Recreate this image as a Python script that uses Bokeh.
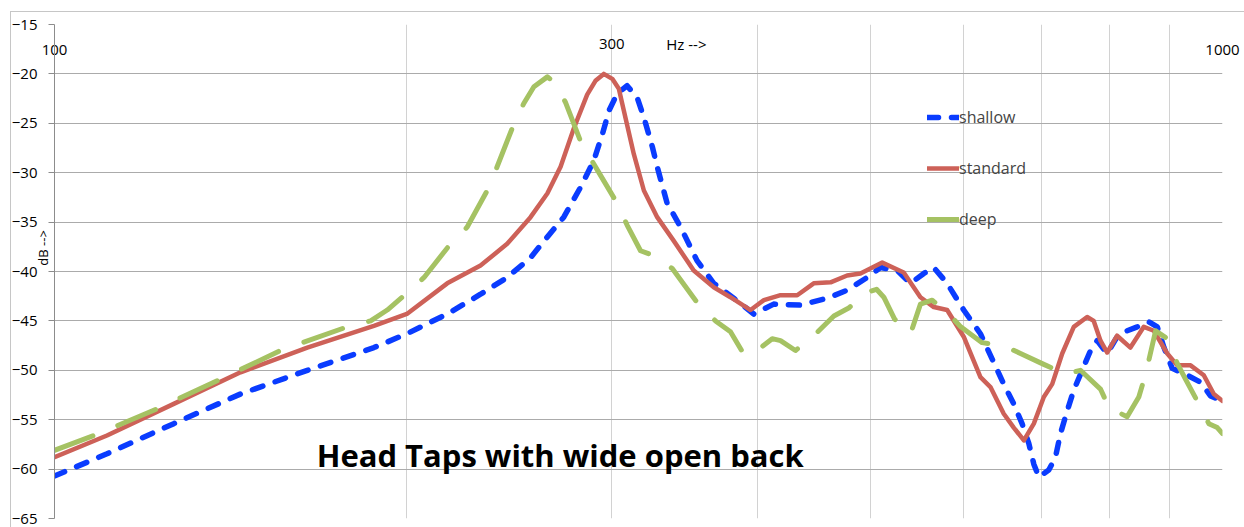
import math
from bokeh.plotting import figure
from bokeh.models import (Range1d, FixedTicker, Grid, Label, Legend, LegendItem,
                          PrintfTickFormatter, InlineStyleSheet)
from bokeh.embed import file_html
from bokeh.resources import INLINE

# ---------------- data ----------------
shallow_freq = [100, 110.9, 126.5, 144.3, 164.6, 187.7, 200.3, 216.9, 231.6, 244.1,
                255.6, 264.2, 272.9, 282.0, 289.5, 294.5, 298.4, 303.2, 309.2, 315.4,
                319.6, 325.0, 328.1, 334.6, 343.6, 354.9, 366.8, 381.5, 396.9, 412.8,
                435.3, 458.8, 477.1, 496.3, 509.6, 526.6, 540.6, 555.0, 566.0, 581.1,
                600.4, 620.5, 637.0, 649.7, 662.6, 673.6, 682.6, 689.4, 696.2, 710.0,
                719.4, 726.6, 736.3, 745.9, 755.8, 770.9, 781.0, 796.7, 812.4, 828.6,
                845.3, 864.9, 879.3, 891.0, 905.6, 932.9, 957.6, 976.6, 1000]
shallow_db = [-60.7, -58.45, -55.4, -52.4, -50.0, -47.7, -46.3, -44.3, -42.3, -40.6,
              -38.6, -36.5, -34.5, -31.5, -28.8, -26.1, -23.7, -22.0, -21.2, -22.4,
              -24.4, -27.4, -29.4, -33.1, -35.5, -38.9, -41.2, -42.7, -44.3, -43.3,
              -43.4, -42.7, -41.9, -40.6, -39.6, -39.9, -41.2, -40.2, -39.6, -41.2,
              -43.9, -46.3, -49.2, -51.4, -53.4, -55.4, -57.4, -59.5, -60.8, -60.1,
              -58.8, -56.4, -54.1, -52.0, -50.4, -48.0, -47.0, -48.3, -46.6, -46.0,
              -45.6, -45.1, -45.6, -47.7, -49.8, -50.5, -51.2, -52.6, -53.1]

standard_freq = [100, 110.9, 126.5, 144.3, 164.6, 187.7, 200.3, 216.9, 231.6, 244.1,
                 255.6, 264.2, 271.2, 278.4, 285.8, 290.5, 295.3, 300.3, 304.2, 307.2,
                 313.3, 319.6, 328.1, 339.0, 352.6, 366.8, 379.1, 394.4, 404.9, 418.4,
                 432.4, 446.7, 461.8, 477.1, 489.8, 511.3, 533.4, 551.3, 566.0, 581.1,
                 600.4, 620.5, 632.9, 649.7, 662.6, 676.0, 689.4, 703.1, 714.8, 729.1,
                 745.9, 765.8, 775.8, 786.2, 796.7, 812.4, 834.0, 856.3, 873.4, 896.8,
                 914.7, 939.0, 963.8, 983.0, 1000]
standard_db = [-58.8, -56.6, -53.4, -50.2, -47.7, -45.5, -44.3, -41.2, -39.4, -37.2,
               -34.5, -32.1, -29.4, -25.5, -22.1, -20.7, -20.0, -20.5, -21.5, -23.7,
               -28.1, -31.8, -34.5, -36.9, -39.9, -41.6, -42.6, -43.9, -42.9, -42.4,
               -42.4, -41.2, -41.1, -40.4, -40.2, -39.1, -40.1, -42.6, -43.6, -43.9,
               -46.6, -50.7, -51.7, -54.4, -55.8, -57.1, -55.4, -52.7, -51.4, -48.3,
               -45.6, -44.6, -45.0, -47.0, -48.2, -46.5, -47.7, -45.6, -46.0, -48.3,
               -49.5, -49.5, -50.5, -52.4, -53.1]

deep_freq = [100, 108.1, 122.4, 138.7, 156.1, 178.1, 186.5, 192.7, 199.8, 207.2,
             218.3, 225.6, 234.7, 239.3, 247.3, 252.2, 257.3, 264.2, 267.7, 273.9,
             282.9, 289.5, 303.2, 309.2, 317.5, 326.0, 338.0, 356.3, 368.1, 379.1,
             389.8, 401.5, 411.6, 418.4, 430.9, 446.7, 464.8, 478.6, 496.3, 505.6,
             512.9, 523.8, 540.6, 551.3, 564.2, 583.1, 596.9, 622.6, 649.7, 671.5,
             703.1, 733.9, 755.8, 786.2, 801.8, 812.4, 828.6, 847.9, 859.3, 876.5,
             896.8, 914.7, 929.6, 951.3, 973.4, 989.7, 1000]
deep_db = [-58.1, -56.6, -53.9, -50.9, -48.0, -45.6, -45.0, -43.9, -42.3, -40.6,
           -37.2, -35.5, -31.8, -29.4, -25.1, -23.0, -21.3, -20.3, -20.8, -22.9,
           -27.2, -29.1, -33.1, -35.3, -37.9, -38.4, -39.7, -43.4, -45.0, -46.1,
           -48.5, -47.8, -46.8, -47.0, -48.0, -46.5, -44.5, -43.7, -42.1, -41.8,
           -42.6, -44.8, -46.3, -43.3, -42.9, -44.3, -45.6, -47.2, -47.5, -48.3,
           -49.4, -50.4, -50.0, -51.9, -54.1, -54.2, -54.7, -52.7, -50.4, -46.0,
           -46.8, -49.3, -50.9, -53.1, -55.4, -55.8, -56.4]

series_names = ["shallow", "standard", "deep"]
x_grid_ticks = [100, 200, 300, 400, 500, 600, 700, 800, 900, 1000]
x_label_ticks = [100, 1000]
y_ticks = [-65, -60, -55, -50, -45, -40, -35, -30, -25, -20, -15]
title_text = "Head Taps with wide open back"

# ---------------- figure ----------------
FONT = "Open Sans"
p = figure(width=1244, height=527, x_axis_type="log",
           x_range=Range1d(100, 1000), y_range=Range1d(-65, -15),
           x_axis_location="above", y_axis_location="left",
           output_backend="svg", toolbar_location=None,
           min_border_left=54, min_border_right=22,
           min_border_top=24, min_border_bottom=9)
p.outline_line_color = None
p.background_fill_color = "white"
p.border_fill_color = "white"
# thin outer chart-area border (top and left edges, as in the reference)
p.stylesheets = [InlineStyleSheet(css=(
    ":host { position: relative; }"
    ":host::after { content: ''; position: absolute; left: 10px; top: 11px;"
    " right: 0px; bottom: 0px; border-left: 1px solid #c6c6c6;"
    " border-top: 1px solid #c6c6c6; pointer-events: none; }"))]

for r in list(p.center):
    if isinstance(r, Grid):
        r.visible = False

p.add_layout(Grid(dimension=0, ticker=FixedTicker(ticks=x_grid_ticks),
                  grid_line_color="#d2d2d2", grid_line_width=1))
p.add_layout(Grid(dimension=1, ticker=FixedTicker(ticks=y_ticks),
                  grid_line_color="#ababab", grid_line_width=1))

# x axis (labels only, drawn inside the top of the frame)
xa = p.xaxis[0]
xa.ticker = FixedTicker(ticks=x_label_ticks)
xa.formatter = PrintfTickFormatter(format="%d")
xa.axis_line_color = None
xa.major_tick_line_color = None
xa.minor_tick_line_color = None
xa.major_tick_out = 0
xa.major_tick_in = 0
xa.major_label_standoff = -30
xa.major_label_text_font = FONT
xa.major_label_text_font_size = "15px"
xa.major_label_text_color = "black"

# y axis
ax = p.yaxis[0]
ax.ticker = FixedTicker(ticks=y_ticks)
ax.axis_line_color = "#8c8c8c"
ax.major_tick_line_color = "#8c8c8c"
ax.major_tick_out = 6
ax.major_tick_in = 0
ax.minor_tick_line_color = None
ax.major_label_standoff = 11
ax.major_label_text_font = FONT
ax.major_label_text_font_size = "15px"
ax.major_label_text_color = "black"
ax.axis_label = "\u00a0" * 14 + "dB -->"
ax.axis_label_text_font = FONT
ax.axis_label_text_font_size = "13px"
ax.axis_label_text_font_style = "normal"
ax.axis_label_text_color = "black"
ax.axis_label_standoff = -43

# ---------------- lines ----------------
r_sh = p.line(shallow_freq, shallow_db, line_color="#0a3cff", line_width=5.5,
              line_dash="11 13", line_cap="round", line_join="round")
r_st = p.line(standard_freq, standard_db, line_color="#cd6158", line_width=4.5,
              line_cap="round", line_join="round")
r_dp = p.line(deep_freq, deep_db, line_color="#a5c263", line_width=5,
              line_dash="41 27", line_cap="round", line_join="round")

legend = Legend(items=[LegendItem(label=series_names[0], renderers=[r_sh]),
                       LegendItem(label=series_names[1], renderers=[r_st]),
                       LegendItem(label=series_names[2], renderers=[r_dp])],
                location=(873, 288), orientation="vertical",
                glyph_width=32, glyph_height=20, label_height=20, spacing=29,
                padding=0, margin=0, label_standoff=0,
                border_line_color=None, background_fill_alpha=0,
                label_text_font=FONT, label_text_font_size="16px")
p.add_layout(legend)

# ---------------- texts ----------------
def lab(x, y, text, size="15px", align="center", bold=False):
    p.add_layout(Label(x=x, y=y, text=text, text_font=FONT, text_font_size=size,
                       text_align=align, text_baseline="middle",
                       text_font_style="bold" if bold else "normal",
                       text_color="black"))

lab(300, -17.0, "300")
lab(334, -17.0, "Hz -->", align="left")
lab(271, -58.6, title_text, size="31px", bold=True)

open("out.html", "w").write(file_html(p, INLINE))
